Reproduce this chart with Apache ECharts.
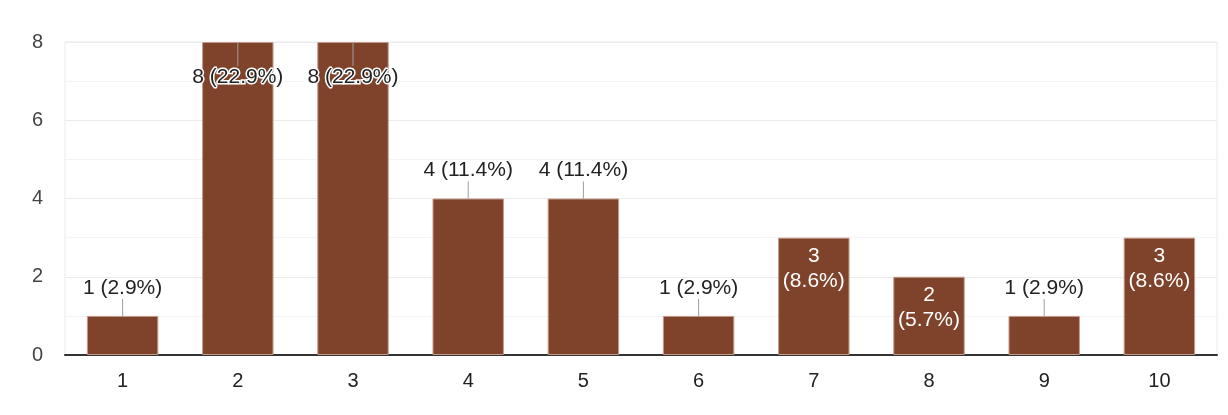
<!DOCTYPE html>
<html>
<head>
<meta charset="utf-8">
<script src="https://cdn.jsdelivr.net/npm/echarts@6/dist/echarts.min.js"></script>
<style>
  html, body { margin: 0; padding: 0; background: #fff; }
  #container { width: 1228px; height: 415px; }
</style>
</head>
<body>
<div id="container"></div>
<script>
var categories = ['1', '2', '3', '4', '5', '6', '7', '8', '9', '10'];
var counts = [1, 8, 8, 4, 4, 1, 3, 2, 1, 3];
var percents = ['2.9%', '22.9%', '22.9%', '11.4%', '11.4%', '2.9%', '8.6%', '5.7%', '2.9%', '8.6%'];
var yTicks = [0, 2, 4, 6, 8];

var dom = document.getElementById('container');
var myChart = echarts.init(dom);
var yMax = yTicks[yTicks.length - 1];

// bars whose label is drawn white inside the bar
var insideIdx = [6, 7, 9];

var labelRich = {
    t: { fontSize: 21, lineHeight: 22, color: '#222', align: 'center' },
    tb: { fontSize: 21, lineHeight: 22, color: '#222', align: 'center', textBorderColor: '#fff', textBorderWidth: 3 },
    ln: { width: 1, height: 17, backgroundColor: '#9e9e9e', align: 'center' },
    lnd: { width: 1, height: 24, backgroundColor: '#9e9e9e', align: 'center' }
};

var barData = counts.map(function (v, i) {
    var text = v + ' (' + percents[i] + ')';
    var label;
    if (v === yMax) {
        label = { show: true, position: 'insideTop', distance: 0, formatter: '{lnd|}\n{tb|' + text + '}', rich: labelRich };
    } else if (insideIdx.indexOf(i) >= 0) {
        label = { show: true, position: 'insideTop', distance: 6, color: '#fff', fontSize: 21, lineHeight: 25,
                  formatter: v + '\n(' + percents[i] + ')' };
    } else {
        label = { show: true, position: 'top', distance: 0, formatter: '{t|' + text + '}\n{ln|}', rich: labelRich };
    }
    return { value: v, label: label };
});

var option = {
    animation: false,
    textStyle: { fontFamily: 'Liberation Sans, Arial, sans-serif' },
    grid: {
        left: 65, right: 11, top: 42, bottom: 60,
        show: true, borderColor: '#ebebeb', borderWidth: 1
    },
    xAxis: {
        type: 'category',
        data: categories,
        axisLine: { lineStyle: { color: '#333', width: 2 } },
        axisTick: { show: false },
        axisLabel: { fontSize: 20, color: '#222', margin: 16 }
    },
    yAxis: {
        type: 'value',
        min: 0,
        max: yMax,
        interval: 2,
        axisLine: { show: false },
        axisTick: { show: false },
        axisLabel: { fontSize: 20, color: '#444', margin: 22 },
        splitLine: { lineStyle: { color: '#ebebeb', width: 1 } },
        minorTick: { show: false, splitNumber: 2 },
        minorSplitLine: { show: true, lineStyle: { color: '#f4f4f4', width: 1 } }
    },
    series: [{
        type: 'bar',
        data: barData,
        barWidth: '62%',
        itemStyle: { color: '#7f432b', borderColor: '#c49a8a', borderWidth: 1 },
        labelLayout: { hideOverlap: false }
    }]
};
myChart.setOption(option, true);
</script>
</body>
</html>
